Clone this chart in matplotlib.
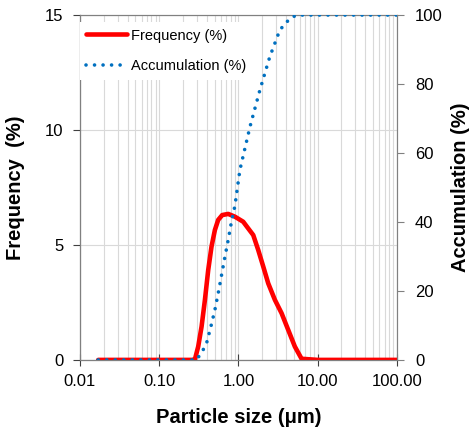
import matplotlib.pyplot as plt
from matplotlib.ticker import FixedLocator, LogLocator, NullFormatter

plt.rcParams['font.family'] = ['Liberation Sans', 'DejaVu Sans']

# frequency curve (left axis)
freq_size = [0.017, 0.1, 0.26, 0.283, 0.311, 0.343, 0.378, 0.416, 0.458,
             0.505, 0.556, 0.625, 0.744, 0.903, 1.15, 1.33, 1.54, 1.78,
             2.06, 2.38, 2.89, 3.51, 4.26, 5.16, 6.27, 10.0, 100.0]
freq_pct = [0, 0, 0, 0.03, 0.58, 1.45, 2.61, 3.91, 4.93,
            5.65, 6.09, 6.30, 6.35, 6.23, 6.01, 5.72, 5.43, 4.78,
            4.06, 3.33, 2.61, 2.03, 1.30, 0.58, 0.05, 0, 0]

# cumulative curve (right axis)
acc_size = [0.017, 0.1, 0.296, 0.349, 0.396, 0.45, 0.505, 0.556, 0.613,
            0.676, 0.744, 0.818, 0.903, 1.045, 1.40, 1.87, 2.49, 3.34,
            4.47, 5.42, 10.0, 100.0]
acc_pct = [0, 0, 0, 2.4, 4.8, 9.7, 14.5, 19.3, 24.6,
           29.9, 34.8, 40.1, 44.6, 55.1, 67.6, 78.3, 87.9, 95.7,
           99.0, 100, 100, 100]

x_ticks = [0.01, 0.1, 1, 10, 100]
x_labels = ["0.01", "0.10", "1.00", "10.00", "100.00"]

fig = plt.figure(figsize=(4.73, 4.30), dpi=100)
ax = fig.add_axes([0.169, 0.163, 0.670, 0.802])
ax2 = ax.twinx()

ax.set_xscale('log')
ax.set_xlim(0.01, 100)
ax.set_ylim(0, 15)
ax2.set_ylim(0, 100)

ax.xaxis.set_major_locator(FixedLocator(x_ticks))
ax.set_xticklabels(x_labels)
ax.xaxis.set_minor_locator(LogLocator(base=10, subs=range(2, 10)))
ax.xaxis.set_minor_formatter(NullFormatter())
ax.set_yticks([0, 5, 10, 15])
ax2.set_yticks([0, 20, 40, 60, 80, 100])

ax.grid(True, which='both', axis='x', color='#d9d9d9', linewidth=0.8)
ax.grid(True, which='major', axis='y', color='#d9d9d9', linewidth=0.8)
ax.set_axisbelow(True)

l1, = ax.plot(freq_size, freq_pct, color='#ff0000', linewidth=3.3,
              solid_joinstyle='round', solid_capstyle='round',
              label='Frequency (%)', zorder=3)
l2, = ax2.plot(acc_size, acc_pct, color='#0070c0', linewidth=2.6,
               linestyle=(0, (0.01, 2.35)), dash_capstyle='round',
               label='Accumulation (%)', zorder=3)

for a in (ax, ax2):
    for s in a.spines.values():
        s.set_color('#808080')
        s.set_linewidth(0.8)
ax.spines['left'].set_color('#404040')
ax.spines['bottom'].set_color('#404040')

ax.tick_params(axis='both', which='major', labelsize=12, colors='#404040',
               labelcolor='black', length=5, direction='out', pad=7)
ax.tick_params(axis='x', which='major', direction='inout', length=8, pad=6)
ax.tick_params(axis='x', which='minor', length=0)
ax2.tick_params(axis='y', labelsize=12, colors='#808080',
                labelcolor='black', length=5, direction='out', pad=8)

ax.set_xlabel('Particle size (μm)', fontsize=14.5, fontweight='bold', labelpad=14)
ax.set_ylabel('Frequency  (%)', fontsize=14.5, fontweight='bold', labelpad=14)
ax2.set_ylabel('Accumulation (%)', fontsize=14.5, fontweight='bold', labelpad=6)

leg = ax2.legend(handles=[l1, l2], loc='upper left', fontsize=10.5,
                 bbox_to_anchor=(0.0, 0.98),
                 frameon=True, fancybox=False, edgecolor='none',
                 facecolor='white', framealpha=1, handlelength=2.75,
                 handletextpad=0.3, labelspacing=1.15, borderaxespad=0.0,
                 borderpad=0.45)

fig.savefig('out.png', dpi=100)
